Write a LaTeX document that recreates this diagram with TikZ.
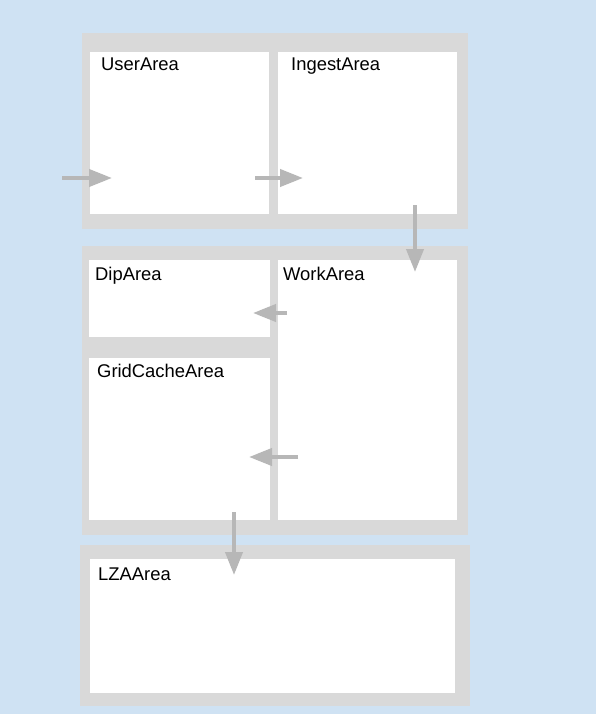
\documentclass[tikz,border=0pt]{standalone}
\usepackage{fontspec}
\setmainfont{Liberation Sans}
\usetikzlibrary{arrows.meta}
\definecolor{bgblue}{HTML}{CFE2F3}
\definecolor{panelgray}{HTML}{D9D9D9}
\definecolor{arrowgray}{HTML}{B7B7B7}
\tikzstyle{panel} = [rectangle, fill=panelgray, draw=none, anchor=north west, inner sep=0pt]
\tikzstyle{area} = [rectangle, fill=white, draw=none, anchor=north west, inner sep=0pt]
\tikzstyle{areaname} = [anchor=base west, inner sep=0pt, font=\fontsize{18.4}{22}\selectfont]
\tikzstyle{arrow} = [line width=4pt, draw=arrowgray, -{Triangle[length=23pt,width=17pt]}]
\begin{document}
\begin{tikzpicture}[x=1pt, y=-1pt]
        \fill[bgblue] (0,0) rectangle (596,714);
        \useasboundingbox (0,0) rectangle (596,714);

        % gray panels
        \node (top) [panel, minimum width=386pt, minimum height=196pt] at (82,33) {};
        \node (mid) [panel, minimum width=386pt, minimum height=289pt] at (82,246) {};
        \node (bottom) [panel, minimum width=390pt, minimum height=161pt] at (80,545) {};

        % white areas
        \node (user) [area, minimum width=179pt, minimum height=162pt] at (90,52) {};
        \node (ingest) [area, minimum width=179pt, minimum height=162pt] at (278,52) {};
        \node (dip) [area, minimum width=181pt, minimum height=77pt] at (89,260) {};
        \node (gridcache) [area, minimum width=181pt, minimum height=162pt] at (89,358) {};
        \node (work) [area, minimum width=179pt, minimum height=260pt] at (278,260) {};
        \node (lza) [area, minimum width=365pt, minimum height=134pt] at (90,559) {};

        \node (userName) [areaname] at ([xshift=11pt, yshift=-19pt]user.north west) {UserArea};
        \node (ingestName) [areaname] at ([xshift=13pt, yshift=-19pt]ingest.north west) {IngestArea};
        \node (dipName) [areaname] at ([xshift=6pt, yshift=-20pt]dip.north west) {DipArea};
        \node (workName) [areaname] at ([xshift=5pt, yshift=-20pt]work.north west) {WorkArea};
        \node (gridcacheName) [areaname] at ([xshift=8pt, yshift=-19pt]gridcache.north west) {GridCacheArea};
        \node (lzaName) [areaname] at ([xshift=8pt, yshift=-21pt]lza.north west) {LZAArea};

        % arrow ends
        \coordinate (feedIn) at (62,178);
        \coordinate (userIn) at (112,178);
        \coordinate (userOut) at (255,178);
        \coordinate (ingestIn) at (303,178);
        \coordinate (ingestOut) at (415,205);
        \coordinate (workIn) at (415,272);
        \coordinate (workOutDip) at (287,313);
        \coordinate (dipIn) at (253,313);
        \coordinate (workOutGrid) at (298,457);
        \coordinate (gridcacheIn) at (249,457);
        \coordinate (gridcacheOut) at (234,512);
        \coordinate (lzaIn) at (234,575);

        \draw [arrow] (feedIn) -- (userIn);
        \draw [arrow] (userOut) -- (ingestIn);
        \draw [arrow] (ingestOut) -- (workIn);
        \draw [arrow] (workOutDip) -- (dipIn);
        \draw [arrow] (workOutGrid) -- (gridcacheIn);
        \draw [arrow] (gridcacheOut) -- (lzaIn);

    \end{tikzpicture}
\end{document}
